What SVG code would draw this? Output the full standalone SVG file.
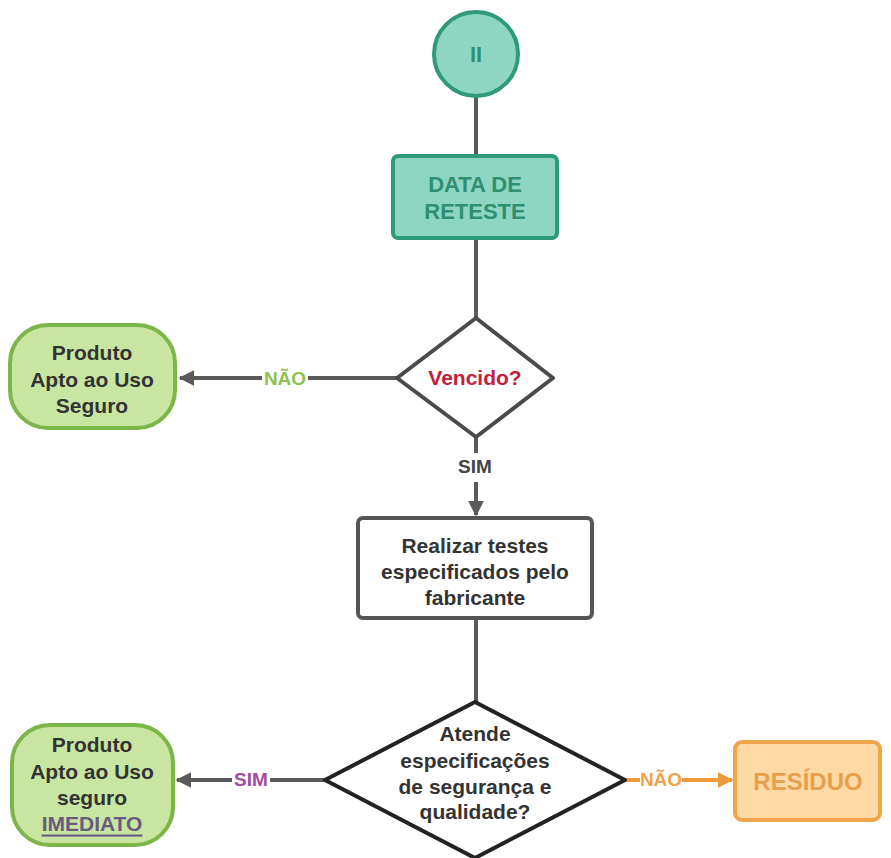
<svg xmlns="http://www.w3.org/2000/svg" width="891" height="858" viewBox="0 0 891 858">
<defs>
<marker id="ag" viewBox="0 0 10 10" refX="9" refY="5" markerWidth="4" markerHeight="4" orient="auto" markerUnits="strokeWidth"><path d="M0,0 L10,5 L0,10 Z" fill="#5a5a5a"/></marker>
<marker id="ao" viewBox="0 0 10 10" refX="9" refY="5" markerWidth="4" markerHeight="4" orient="auto" markerUnits="strokeWidth"><path d="M0,0 L10,5 L0,10 Z" fill="#ef9a3a"/></marker>
</defs>
<style>
text{font-family:"Liberation Sans",Arial,sans-serif;font-weight:bold;text-anchor:middle;dominant-baseline:central}
.t{font-size:21px;fill:#333}
.c{stroke:#5a5a5a;stroke-width:4;fill:none}
.lbl{font-size:19px}
</style>
<rect width="891" height="858" fill="#ffffff"/>
<g id="connectors">
<line class="c" x1="476" y1="96" x2="476" y2="156"/>
<line class="c" x1="476" y1="238" x2="476" y2="318"/>
<line class="c" x1="397" y1="378" x2="308" y2="378"/>
<line class="c" x1="262" y1="378" x2="180" y2="378" marker-end="url(#ag)"/>
<text class="lbl" x="285" y="378" fill="#8cc152">NÃO</text>
<line class="c" x1="476" y1="437" x2="476" y2="453"/>
<text class="lbl" x="475" y="466" fill="#444">SIM</text>
<line class="c" x1="476" y1="482" x2="476" y2="515" marker-end="url(#ag)"/>
<line class="c" x1="476" y1="618" x2="476" y2="702"/>
<line class="c" x1="325" y1="780" x2="270" y2="780"/>
<line class="c" x1="232" y1="780" x2="177" y2="780" marker-end="url(#ag)"/>
<text class="lbl" x="251" y="779" fill="#a04aa0">SIM</text>
<line x1="625" y1="780" x2="640" y2="780" stroke="#ef9a3a" stroke-width="4"/>
<line x1="682" y1="780" x2="732" y2="780" stroke="#ef9a3a" stroke-width="4" marker-end="url(#ao)"/>
<text class="lbl" x="661" y="779" fill="#f0a24c">NÃO</text>
</g>
<g id="start">
<circle cx="476" cy="54" r="42" fill="#8fd6c2" stroke="#2d9a7a" stroke-width="4"/>
<text x="476" y="54" font-size="22" fill="#2f8f70">II</text>
</g>
<g id="data-reteste">
<rect x="393" y="156" width="164" height="82" rx="5" fill="#8fd6c2" stroke="#2d9a7a" stroke-width="4"/>
<text x="475" y="184" font-size="22" fill="#2f8f70">DATA DE</text>
<text x="475" y="211" font-size="22" fill="#2f8f70">RETESTE</text>
</g>
<g id="vencido">
<polygon points="476,318 553,378 476,437 397,378" fill="#fff" stroke="#4a4a4a" stroke-width="4" stroke-linejoin="round"/>
<text x="475" y="377" font-size="21" fill="#c0213c">Vencido?</text>
</g>
<g id="apto1">
<rect x="10" y="325" width="165" height="103" rx="38" fill="#c8e6a2" stroke="#7cb548" stroke-width="4"/>
<text class="t" x="92" y="352">Produto</text>
<text class="t" x="92" y="379">Apto ao Uso</text>
<text class="t" x="92" y="405">Seguro</text>
</g>
<g id="realizar">
<rect x="358" y="518" width="234" height="100" rx="5" fill="#fff" stroke="#555" stroke-width="4"/>
<text class="t" x="475" y="545">Realizar testes</text>
<text class="t" x="475" y="571">especificados pelo</text>
<text class="t" x="475" y="597">fabricante</text>
</g>
<g id="atende">
<polygon points="475,702 625,780 475,858 325,780" fill="#fff" stroke="#222" stroke-width="4" stroke-linejoin="round"/>
<text class="t" x="475" y="733">Atende</text>
<text class="t" x="475" y="760">especificações</text>
<text class="t" x="475" y="786">de segurança e</text>
<text class="t" x="475" y="811">qualidade?</text>
</g>
<g id="apto2">
<rect x="12" y="725" width="161" height="120" rx="38" fill="#c8e6a2" stroke="#7cb548" stroke-width="4"/>
<text class="t" x="92" y="744">Produto</text>
<text class="t" x="92" y="771">Apto ao Uso</text>
<text class="t" x="92" y="797">seguro</text>
<text x="92" y="823" font-size="21" fill="#6a5a80" text-decoration="underline">IMEDIATO</text>
</g>
<g id="residuo">
<rect x="735" y="742" width="145" height="78" rx="7" fill="#fdd9a6" stroke="#f0a54a" stroke-width="4"/>
<text x="808" y="781" font-size="24" fill="#e89f4c">RESÍDUO</text>
</g>
</svg>
